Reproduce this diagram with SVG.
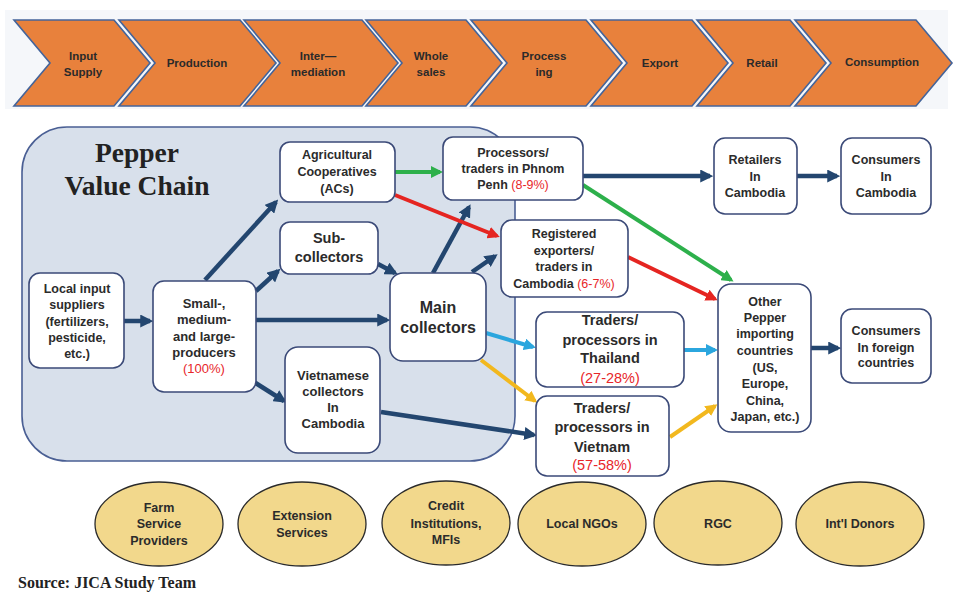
<svg xmlns="http://www.w3.org/2000/svg" width="957" height="594" viewBox="0 0 957 594">
  <style>
    .stage { fill: #E8813C; stroke: #44649A; stroke-width: 1.6; }
    .stage-t { font-family: "Liberation Sans", Arial, sans-serif; font-weight: bold; font-size: 11.5px; fill: #2a2a2a; text-anchor: middle; }
    .box { fill: #ffffff; stroke: #3B4A78; stroke-width: 1.6; }
    .t { font-family: "Liberation Sans", Arial, sans-serif; font-weight: bold; font-size: 12.5px; fill: #2b2b2b; text-anchor: middle; }
    .t13 { font-size: 13px; }
    .t14 { font-size: 14.5px; }
    .t16 { font-size: 16px; }
    .pct { fill: #E8262A; font-weight: normal; }
    .oval { fill: #F2D88C; stroke: #2a2a2a; stroke-width: 1.3; }
    .title { font-family: "Liberation Serif", "Times New Roman", serif; font-weight: bold; font-size: 27.5px; fill: #222; text-anchor: middle; }
    .navy { stroke: #23466F; stroke-width: 4.5; fill: none; }
    .green { stroke: #2DB04B; stroke-width: 4; fill: none; }
    .red { stroke: #E52521; stroke-width: 4; fill: none; }
    .sky { stroke: #2BA6DE; stroke-width: 4; fill: none; }
    .gold { stroke: #F2B81E; stroke-width: 4; fill: none; }
  </style>
  <defs>
    <marker id="hNavy" viewBox="0 0 12 12" refX="9" refY="6" markerWidth="13" markerHeight="13" markerUnits="userSpaceOnUse" orient="auto"><path d="M0,0 L12,6 L0,12 z" fill="#23466F"/></marker>
    <marker id="hGreen" viewBox="0 0 12 12" refX="9" refY="6" markerWidth="12" markerHeight="12" markerUnits="userSpaceOnUse" orient="auto"><path d="M0,0 L12,6 L0,12 z" fill="#2DB04B"/></marker>
    <marker id="hRed" viewBox="0 0 12 12" refX="9" refY="6" markerWidth="12" markerHeight="12" markerUnits="userSpaceOnUse" orient="auto"><path d="M0,0 L12,6 L0,12 z" fill="#E52521"/></marker>
    <marker id="hSky" viewBox="0 0 12 12" refX="9" refY="6" markerWidth="12" markerHeight="12" markerUnits="userSpaceOnUse" orient="auto"><path d="M0,0 L12,6 L0,12 z" fill="#2BA6DE"/></marker>
    <marker id="hGold" viewBox="0 0 12 12" refX="9" refY="6" markerWidth="12" markerHeight="12" markerUnits="userSpaceOnUse" orient="auto"><path d="M0,0 L12,6 L0,12 z" fill="#F2B81E"/></marker>
  </defs>

  <rect width="957" height="594" fill="#ffffff"/>

  <!-- stage banner -->
  <g id="stages">
    <rect x="5" y="10" width="943" height="99" fill="#F5F7FA"/>
    <polygon class="stage" points="14,20 114,20 150,63 114,106 14,106 50,63"/>
    <polygon class="stage" points="119,20 240,20 276,63 240,106 119,106 155,63"/>
    <polygon class="stage" points="244,20 362,20 398,63 362,106 244,106 280,63"/>
    <polygon class="stage" points="366,20 466,20 502,63 466,106 366,106 402,63"/>
    <polygon class="stage" points="471,20 586,20 622,63 586,106 471,106 507,63"/>
    <polygon class="stage" points="591,20 692,20 728,63 692,106 591,106 627,63"/>
    <polygon class="stage" points="697,20 790,20 826,63 790,106 697,106 733,63"/>
    <polygon class="stage" points="795,20 916,20 952,63 916,106 795,106 831,63"/>
    <text class="stage-t" x="83" y="60">Input</text>
    <text class="stage-t" x="83" y="76">Supply</text>
    <text class="stage-t" x="197" y="67">Production</text>
    <text class="stage-t" x="318" y="60">Inter—</text>
    <text class="stage-t" x="318" y="76">mediation</text>
    <text class="stage-t" x="431" y="60">Whole</text>
    <text class="stage-t" x="431" y="76">sales</text>
    <text class="stage-t" x="544" y="60">Process</text>
    <text class="stage-t" x="544" y="76">ing</text>
    <text class="stage-t" x="660" y="67">Export</text>
    <text class="stage-t" x="762" y="67">Retail</text>
    <text class="stage-t" x="882" y="66">Consumption</text>
  </g>

  <!-- domestic value chain area -->
  <g id="value-chain-area">
    <rect x="22" y="127" width="493" height="334" rx="45" fill="#D8E0EB" stroke="#4A5F94" stroke-width="1.6"/>
    <text class="title" x="137" y="162">Pepper</text>
    <text class="title" x="137" y="195">Value Chain</text>
  </g>

  <!-- connectors -->
  <g id="connectors">
    <path class="navy" marker-end="url(#hNavy)" d="M124,321 L150,321"/>
    <path class="navy" marker-end="url(#hNavy)" d="M205,280 L276,202"/>
    <path class="navy" marker-end="url(#hNavy)" d="M256,291 L278,271"/>
    <path class="navy" marker-end="url(#hNavy)" d="M256,320 L387,320"/>
    <path class="navy" marker-end="url(#hNavy)" d="M254,382 L284,401"/>
    <path class="navy" marker-end="url(#hNavy)" d="M378,264 L395,273"/>
    <path class="navy" marker-end="url(#hNavy)" d="M433,273 L469,207"/>
    <path class="navy" marker-end="url(#hNavy)" d="M472,272 L495,256"/>
    <path class="sky" marker-end="url(#hSky)" d="M486,333 L533,347"/>
    <path class="gold" marker-end="url(#hGold)" d="M481,360 L535,401"/>
    <path class="navy" marker-end="url(#hNavy)" d="M381,412 L534,435"/>
    <path class="green" marker-end="url(#hGreen)" d="M395,172 L440,172"/>
    <path class="red" marker-end="url(#hRed)" d="M395,195 L497,236"/>
    <path class="navy" marker-end="url(#hNavy)" d="M583,176 L710,176"/>
    <path class="navy" marker-end="url(#hNavy)" d="M797,176 L837,176"/>
    <path class="green" marker-end="url(#hGreen)" d="M583,185 L731,280"/>
    <path class="red" marker-end="url(#hRed)" d="M628,257 L715,299"/>
    <path class="sky" marker-end="url(#hSky)" d="M684,350 L715,350"/>
    <path class="gold" marker-end="url(#hGold)" d="M670,437 L715,406"/>
    <path class="navy" marker-end="url(#hNavy)" d="M811,348 L838,348"/>
  </g>

  <!-- nodes -->
  <g id="input-suppliers">
    <rect class="box" x="29" y="273" width="95" height="95" rx="11"/>
    <text class="t" x="77" y="292.5">Local input</text>
    <text class="t" x="77" y="308.5">suppliers</text>
    <text class="t" x="77" y="325.5">(fertilizers,</text>
    <text class="t" x="77" y="341.5">pesticide,</text>
    <text class="t" x="77" y="357.5">etc.)</text>
  </g>

  <g id="producers">
    <rect class="box" x="153" y="281" width="103" height="111" rx="11"/>
    <text class="t t13" x="204" y="307.5">Small-,</text>
    <text class="t t13" x="204" y="323.5">medium-</text>
    <text class="t t13" x="204" y="340.5">and large-</text>
    <text class="t t13" x="204" y="356.5">producers</text>
    <text class="t t13 pct" x="204" y="372.5">(100%)</text>
  </g>

  <g id="cooperatives">
    <rect class="box" x="280" y="142" width="115" height="60" rx="10"/>
    <text class="t" x="337" y="158.5">Agricultural</text>
    <text class="t" x="337" y="176">Cooperatives</text>
    <text class="t" x="337" y="192.5">(ACs)</text>
  </g>

  <g id="sub-collectors">
    <rect class="box" x="280" y="222" width="98" height="52" rx="10"/>
    <text class="t t14" x="329" y="243">Sub-</text>
    <text class="t t14" x="329" y="262">collectors</text>
  </g>

  <g id="main-collectors">
    <rect class="box" x="390" y="273" width="96" height="88" rx="13"/>
    <text class="t t16" x="438" y="313">Main</text>
    <text class="t t16" x="438" y="333">collectors</text>
  </g>

  <g id="vietnamese-collectors">
    <rect class="box" x="285" y="347" width="95" height="106" rx="13"/>
    <text class="t t13" x="333" y="379.5">Vietnamese</text>
    <text class="t t13" x="333" y="395.5">collectors</text>
    <text class="t t13" x="333" y="411.5">In</text>
    <text class="t t13" x="333" y="427.5">Cambodia</text>
  </g>

  <g id="phnom-penh-processors">
    <rect class="box" x="443" y="137" width="140" height="63" rx="10"/>
    <text class="t" x="513" y="156.5">Processors/</text>
    <text class="t" x="513" y="172.5">traders in Phnom</text>
    <text class="t" x="513" y="188.5">Penh <tspan class="pct">(8-9%)</tspan></text>
  </g>

  <g id="registered-exporters">
    <rect class="box" x="501" y="220" width="127" height="77" rx="11"/>
    <text class="t" x="564" y="237.5">Registered</text>
    <text class="t" x="564" y="254.5">exporters/</text>
    <text class="t" x="564" y="270.5">traders in</text>
    <text class="t" x="564" y="287.5">Cambodia <tspan class="pct">(6-7%)</tspan></text>
  </g>

  <g id="thailand-traders">
    <rect class="box" x="536" y="312" width="148" height="75" rx="11"/>
    <text class="t t14" x="610" y="325">Traders/</text>
    <text class="t t14" x="610" y="345">processors in</text>
    <text class="t t14" x="610" y="363">Thailand</text>
    <text class="t t14 pct" x="610" y="383">(27-28%)</text>
  </g>

  <g id="vietnam-traders">
    <rect class="box" x="536" y="396" width="133" height="80" rx="11"/>
    <text class="t t14" x="602" y="413">Traders/</text>
    <text class="t t14" x="602" y="432">processors in</text>
    <text class="t t14" x="602" y="452">Vietnam</text>
    <text class="t t14 pct" x="602" y="470">(57-58%)</text>
  </g>

  <g id="retailers-cambodia">
    <rect class="box" x="714" y="138" width="83" height="76" rx="11"/>
    <text class="t" x="755" y="163.5">Retailers</text>
    <text class="t" x="755" y="180.5">In</text>
    <text class="t" x="755" y="196.5">Cambodia</text>
  </g>

  <g id="consumers-cambodia">
    <rect class="box" x="841" y="138" width="90" height="76" rx="11"/>
    <text class="t" x="886" y="163.5">Consumers</text>
    <text class="t" x="886" y="180.5">In</text>
    <text class="t" x="886" y="196.5">Cambodia</text>
  </g>

  <g id="importing-countries">
    <rect class="box" x="718" y="284" width="93" height="148" rx="13"/>
    <text class="t" x="765" y="305.5">Other</text>
    <text class="t" x="765" y="321.5">Pepper</text>
    <text class="t" x="765" y="337.5">importing</text>
    <text class="t" x="765" y="354.5">countries</text>
    <text class="t" x="765" y="371.5">(US,</text>
    <text class="t" x="765" y="387.5">Europe,</text>
    <text class="t" x="765" y="404.5">China,</text>
    <text class="t" x="765" y="420.5">Japan, etc.)</text>
  </g>

  <g id="consumers-foreign">
    <rect class="box" x="841" y="309" width="90" height="74" rx="11"/>
    <text class="t" x="886" y="334.5">Consumers</text>
    <text class="t" x="886" y="351.5">In foreign</text>
    <text class="t" x="886" y="366.5">countries</text>
  </g>

  <!-- supporting actors -->
  <g id="farm-service-providers">
    <ellipse class="oval" cx="159" cy="524" rx="64" ry="42"/>
    <text class="t" x="159" y="511.5">Farm</text>
    <text class="t" x="159" y="527.5">Service</text>
    <text class="t" x="159" y="544.5">Providers</text>
  </g>
  <g id="extension-services">
    <ellipse class="oval" cx="302" cy="524" rx="64" ry="42"/>
    <text class="t" x="302" y="519.5">Extension</text>
    <text class="t" x="302" y="536.5">Services</text>
  </g>
  <g id="credit-institutions">
    <ellipse class="oval" cx="446" cy="523" rx="64" ry="42"/>
    <text class="t" x="446" y="509.5">Credit</text>
    <text class="t" x="446" y="527.5">Institutions,</text>
    <text class="t" x="446" y="543.5">MFIs</text>
  </g>
  <g id="local-ngos">
    <ellipse class="oval" cx="582" cy="524" rx="64" ry="42"/>
    <text class="t" x="582" y="528">Local NGOs</text>
  </g>
  <g id="rgc">
    <ellipse class="oval" cx="718" cy="523" rx="64" ry="42"/>
    <text class="t" x="718" y="527.5">RGC</text>
  </g>
  <g id="intl-donors">
    <ellipse class="oval" cx="860" cy="524" rx="64" ry="42"/>
    <text class="t" x="860" y="528">Int'l Donors</text>
  </g>

  <text x="18" y="588" font-family="Liberation Serif, Times New Roman, serif" font-weight="bold" font-size="16" fill="#222">Source: JICA Study Team</text>
</svg>
